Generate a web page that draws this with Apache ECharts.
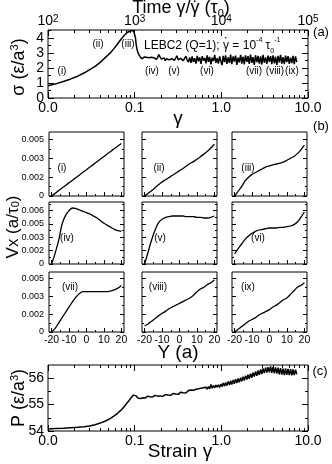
<!DOCTYPE html>
<html><head><meta charset="utf-8">
<script src="https://cdn.jsdelivr.net/npm/echarts@6/dist/echarts.min.js"></script>
<style>html,body{margin:0;padding:0;background:#fff}#c{width:332px;height:464px}</style>
</head><body><div id="c"></div>
<script>
// ---------- data ----------
const strain = [
 0.010,0.012,0.015,0.018,0.022,0.026,0.030,0.035,0.040,0.046,
 0.052,0.058,0.064,0.070,0.076,0.082,0.086,0.090,0.094,0.097,
 0.100,0.102,0.104,0.106,0.108,0.110,0.112,0.115,0.118,0.121,
 0.125,0.129,0.133,0.137,0.141,0.146,0.151,0.156,0.161,0.166,
 0.172,0.178,0.184,0.190,0.197,0.204,0.211,0.218,0.226,0.234,
 0.242,0.250,0.259,0.268,0.277,0.287,0.297,0.307,0.318,0.329,
 0.340,0.352,0.364,0.377,0.390,0.403,0.417,0.431,0.446,0.461,
 0.477,0.493,0.510,0.527,0.545,0.563,0.582,0.602,0.622,0.643,
 0.665,0.687,0.710,0.734,0.759,0.785,0.811,0.838,0.866,0.895,
 0.925,0.956,0.988,1.02,1.05,1.09,1.12,1.16,1.20,1.24,
 1.28,1.32,1.37,1.41,1.46,1.51,1.56,1.61,1.67,1.72,
 1.78,1.84,1.90,1.97,2.03,2.10,2.17,2.25,2.32,2.40,
 2.48,2.57,2.65,2.74,2.84,2.93,3.03,3.13,3.24,3.35,
 3.46,3.58,3.70,3.82,3.95,4.09,4.22,4.37,4.51,4.67,
 4.82,4.99,5.15,5.33,5.51,5.69,5.88,6.08,6.29,6.50,
 6.72,6.94,7.18,7.42
];
const stress = [
 0.82,0.93,1.10,1.26,1.46,1.67,1.88,2.12,2.38,2.72,
 3.00,3.32,3.65,3.95,4.20,4.38,4.44,4.50,4.42,4.50,
 4.38,4.05,3.60,3.30,3.12,2.98,2.90,2.78,2.70,2.62,
 2.68,2.74,2.66,2.72,2.80,2.70,2.62,2.72,2.84,2.70,
 2.62,2.58,2.72,2.90,2.74,2.60,2.56,2.68,2.50,2.64,
 2.76,2.55,2.46,2.64,2.72,2.52,2.66,2.82,2.56,2.45,
 2.65,2.74,2.50,2.60,2.80,2.54,2.40,2.72,2.35,2.78,
 2.40,2.66,2.30,2.82,2.45,2.72,2.28,2.80,2.50,2.68,
 2.32,2.85,2.42,2.75,2.25,2.70,2.48,2.88,2.35,2.66,
 2.30,2.78,2.45,2.20,2.82,2.40,2.86,2.28,2.72,2.35,
 2.90,2.26,2.78,2.44,2.84,2.22,2.70,2.38,2.88,2.30,
 2.76,2.25,2.85,2.42,2.80,2.28,2.90,2.35,2.74,2.22,
 2.86,2.40,2.82,2.30,2.78,2.24,2.88,2.36,2.72,2.28,
 2.84,2.42,2.80,2.26,2.86,2.32,2.76,2.22,2.82,2.38,
 2.88,2.30,2.74,2.26,2.84,2.40,2.80,2.28,2.70,2.34,
 2.82,2.26,2.78,2.40
];
const pressure = [
 54.08,54.09,54.10,54.12,54.14,54.16,54.19,54.24,54.30,54.38,
 54.47,54.57,54.68,54.80,54.93,55.07,55.15,55.24,55.31,55.36,
 55.38,55.36,55.33,55.30,55.27,55.24,55.22,55.21,55.23,55.22,
 55.26,55.28,55.25,55.30,55.32,55.28,55.30,55.34,55.29,55.31,
 55.35,55.30,55.32,55.29,55.33,55.36,55.31,55.34,55.38,55.33,
 55.36,55.40,55.35,55.38,55.42,55.37,55.40,55.44,55.39,55.43,
 55.47,55.41,55.45,55.50,55.44,55.48,55.53,55.46,55.55,55.49,
 55.54,55.48,55.58,55.51,55.60,55.53,55.62,55.55,55.64,55.57,
 55.66,55.58,55.68,55.60,55.76,55.62,55.72,55.64,55.74,55.66,
 55.75,55.65,55.78,55.68,55.82,55.70,55.84,55.72,55.88,55.74,
 55.90,55.76,55.93,55.79,55.96,55.82,55.99,55.85,56.02,55.88,
 56.06,55.91,56.09,55.95,56.13,55.98,56.17,56.02,56.21,56.06,
 56.25,56.09,56.29,56.13,56.33,56.16,56.37,56.19,56.40,56.21,
 56.42,56.22,56.45,56.20,56.43,56.18,56.41,56.17,56.40,56.15,
 56.38,56.14,56.36,56.12,56.37,56.13,56.35,56.12,56.34,56.11,
 56.33,56.12,56.32,56.15
];
const gammaTicks = [0.01, 0.1, 1, 10];
const gammaTickLabels = ['0.0', '0.1', '1.0', '10.0'];
const gammaMinor = [0.02,0.03,0.04,0.05,0.06,0.07,0.08,0.09,0.2,0.3,0.4,0.5,0.6,0.7,0.8,0.9,2,3,4,5,6,7,8,9];
const timeTicks = [100, 1000, 10000, 100000];
const timeTickExp = ['2', '3', '4', '5'];
const timeMinor = [200,300,400,500,600,700,800,900,2000,3000,4000,5000,6000,7000,8000,9000,20000,30000,40000,50000,60000,70000,80000,90000];
const stressTicks = [0, 1, 2, 3, 4];
const stressMinor = [0.5, 1.5, 2.5, 3.5, 4.5];
const pressureTicks = [54, 55, 56];
const pressureMinor = [54.5, 55.5];
const regionLabelsA = ['(i)','(ii)','(iii)','(iv)','(v)','(vi)','(vii)','(viii)','(ix)'];

const profileY = [-20,-18,-16,-14,-12,-10,-8,-6,-4,-2,0,2,4,6,8,10,12,14,16,18,20];
const vx_i    = [0,0.00028,0.00057,0.00084,0.00112,0.00140,0.00168,0.00196,0.00224,0.00252,0.00280,0.00308,0.00336,0.00364,0.00392,0.00420,0.00448,0.00476,0.00504,0.00532,0.00558];
const vx_ii   = [0,0.00028,0.00056,0.00088,0.0012,0.0015,0.00172,0.00196,0.0022,0.00245,0.0027,0.00293,0.00318,0.00345,0.00365,0.0039,0.00418,0.00445,0.00475,0.0051,0.0055];
const vx_iii  = [0,0.0005,0.0010,0.0016,0.0020,0.0023,0.0025,0.0027,0.0029,0.0031,0.0032,0.0033,0.0034,0.0035,0.0036,0.0038,0.0040,0.0042,0.0045,0.0049,0.0054];
const vx_iv   = [0,0.0016,0.0035,0.0060,0.0073,0.0080,0.0084,0.0083,0.0081,0.0079,0.0077,0.0075,0.0072,0.0069,0.0065,0.0061,0.0058,0.0055,0.0052,0.0050,0.0049];
const vx_v    = [0,0.0018,0.0036,0.0051,0.0062,0.0067,0.0070,0.0071,0.0072,0.0072,0.0072,0.0072,0.0071,0.0071,0.0071,0.0070,0.0070,0.0069,0.0069,0.0070,0.0072];
const vx_vi   = [0.0015,0.0023,0.0030,0.0037,0.0042,0.0046,0.0049,0.0051,0.0052,0.0053,0.0054,0.0054,0.0054,0.0055,0.0055,0.0056,0.0057,0.0059,0.0063,0.0070,0.0078];
const vx_vii  = [0,0.0004,0.0010,0.0016,0.0022,0.0028,0.0034,0.0039,0.0043,0.0045,0.0045,0.0045,0.0045,0.0045,0.0045,0.0045,0.0045,0.0046,0.0047,0.0049,0.0052];
const vx_viii = [0.0007,0.0009,0.0012,0.0015,0.0018,0.0021,0.0023,0.0026,0.0028,0.0030,0.0032,0.0034,0.0036,0.0038,0.0041,0.0045,0.0048,0.0050,0.0053,0.0055,0.0058];
const vx_ix   = [0,0.0003,0.0006,0.0009,0.0012,0.0014,0.0016,0.0019,0.0021,0.0023,0.0025,0.0028,0.0030,0.0033,0.0036,0.0038,0.0042,0.0046,0.0050,0.0052,0.0055];
const profiles = [vx_i, vx_ii, vx_iii, vx_iv, vx_v, vx_vi, vx_vii, vx_viii, vx_ix];
const profileNames = ['(i)','(ii)','(iii)','(iv)','(v)','(vi)','(vii)','(viii)','(ix)'];
const yPosTicks = [-20, -10, 0, 10, 20];
const yPosTickLabels = ['-20', '-10', '0', '10', '20'];
const yPosMinor = [-15, -5, 5, 15];
const vxTicksShort = [0, 0.002, 0.004, 0.006];
const vxTickLabelsShort = ['0', '0.002', '0.003', '0.005'];
const vxMinorShort = [0.001, 0.003, 0.005];
const vxTicksTall = [0, 0.002, 0.004, 0.006, 0.008];
const vxTickLabelsTall = ['0', '0.002', '0.003', '0.005', '0.006'];
const vxMinorTall = [0.001, 0.003, 0.005, 0.007, 0.009];

// ---------- layout / helpers ----------
const FONT = '"Liberation Sans", Arial, Helvetica, sans-serif';
const grids = [], xAxes = [], yAxes = [], seriesList = [], graphics = [];
const mctx = document.createElement('canvas').getContext('2d');
function textW(s, size) { mctx.font = size + 'px ' + FONT; return mctx.measureText(s).width; }
function addGrid(left, top, width, height) {
  grids.push({left, top, width, height, show: true, borderColor: '#000', borderWidth: 1, backgroundColor: 'rgba(0,0,0,0)'});
  return grids.length - 1;
}
function tickAxis(list, gridIndex, position, min, max, ticks, len, label) {
  list.push({
    type: 'value', gridIndex, position, min, max, silent: true,
    axisLine: {show: false, onZero: false},
    splitLine: {show: false},
    axisTick: {show: true, inside: true, length: len, customValues: ticks, lineStyle: {color: '#000', width: 1}},
    axisLabel: label ? Object.assign({show: true, customValues: ticks, color: '#000', fontFamily: FONT}, label) : {show: false}
  });
  return list.length - 1;
}
const lg = v => Math.log10(v);
function txt(x, y, text, size, opts) {
  graphics.push(Object.assign({
    type: 'text', x, y, silent: true, z: 100,
    style: Object.assign({text, fill: '#000', font: size + 'px ' + FONT, fontSize: size, fontFamily: FONT,
      textAlign: 'center', textVerticalAlign: 'middle', align: 'center', verticalAlign: 'middle'}, (opts && opts.style) || {})
  }, (opts && opts.el) || {}));
}

// ---------- panel (a) ----------
const gA = addGrid(48, 30, 260, 68);
xAxes.push({type: 'log', logBase: 10, gridIndex: gA, min: 0.01, max: 10, show: false, axisLine: {onZero: false}});
const xDataA = xAxes.length - 1;
tickAxis(xAxes, gA, 'bottom', -2, 1, gammaTicks.map(lg), 6,
  {fontSize: 14, margin: 3, formatter: v => gammaTickLabels[gammaTicks.map(lg).findIndex(t => Math.abs(t - v) < 1e-6)]});
tickAxis(xAxes, gA, 'bottom', -2, 1, gammaMinor.map(lg), 3, null);
tickAxis(xAxes, gA, 'top', 2, 5, timeTicks.map(lg), 6,
  {fontSize: 14, margin: 1, lineHeight: 15,
   formatter: v => '10{sup|' + timeTickExp[timeTicks.map(lg).findIndex(t => Math.abs(t - v) < 1e-6)] + '}',
   rich: {sup: {fontSize: 10, fontFamily: FONT, color: '#000', verticalAlign: 'top', lineHeight: 8}}});
tickAxis(xAxes, gA, 'top', 2, 5, timeMinor.map(lg), 3, null);
const yA = tickAxis(yAxes, gA, 'left', 0, 4.55, stressTicks, 6, {fontSize: 14, margin: 4});
tickAxis(yAxes, gA, 'left', 0, 4.55, stressMinor, 3, null);
tickAxis(yAxes, gA, 'right', 0, 4.55, stressTicks, 6, null);
tickAxis(yAxes, gA, 'right', 0, 4.55, stressMinor, 3, null);
seriesList.push({type: 'line', xAxisIndex: xDataA, yAxisIndex: yA, data: strain.map((g, i) => [g, stress[i]]),
  showSymbol: false, silent: true, lineStyle: {color: '#000', width: 1.5}, animation: false});

// ---------- panel (b) ----------
const colLeft = [49, 142, 232];
const rowTop = [132, 202, 272];
const rowH = [64, 62, 60];
const rowMax = [0.0068, 0.0093, 0.0067];
const labelPos = [[62,168],[159,168],[248,168],[67,238],[160,238],[258,238],[70,287],[158,287],[248,287]];
for (let r = 0; r < 3; r++) {
  const ticks = r === 1 ? vxTicksTall : vxTicksShort;
  const tickLabels = r === 1 ? vxTickLabelsTall : vxTickLabelsShort;
  const minor = r === 1 ? vxMinorTall : vxMinorShort;
  for (let c = 0; c < 3; c++) {
    const k = r * 3 + c;
    const g = addGrid(colLeft[c], rowTop[r], 75, rowH[r]);
    const xi = tickAxis(xAxes, g, 'bottom', -21.5, 21.5, yPosTicks, 4,
      r === 2 ? {fontSize: 10.5, margin: 3, formatter: v => yPosTickLabels[yPosTicks.indexOf(Math.round(v))]} : null);
    tickAxis(xAxes, g, 'bottom', -21.5, 21.5, yPosMinor, 2, null);
    const yi = tickAxis(yAxes, g, 'left', 0, rowMax[r], ticks, 4,
      c === 0 ? {fontSize: 9, margin: 5, formatter: v => tickLabels[Math.round(v / 0.002)]} : null);
    tickAxis(yAxes, g, 'left', 0, rowMax[r], minor, 2, null);
    tickAxis(yAxes, g, 'right', 0, rowMax[r], ticks, 4, null);
    tickAxis(yAxes, g, 'right', 0, rowMax[r], minor, 2, null);
    seriesList.push({type: 'line', xAxisIndex: xi, yAxisIndex: yi, data: profileY.map((y, i) => [y, profiles[k][i]]),
      showSymbol: false, silent: true, smooth: 0.3, lineStyle: {color: '#000', width: 1.3}, animation: false});
    txt(labelPos[k][0], labelPos[k][1], profileNames[k], 10);
  }
}

// ---------- panel (c) ----------
const gC = addGrid(48, 365, 260, 66);
xAxes.push({type: 'log', logBase: 10, gridIndex: gC, min: 0.01, max: 10, show: false, axisLine: {onZero: false}});
const xDataC = xAxes.length - 1;
tickAxis(xAxes, gC, 'bottom', -2, 1, gammaTicks.map(lg), 6,
  {fontSize: 14, margin: 3, formatter: v => gammaTickLabels[gammaTicks.map(lg).findIndex(t => Math.abs(t - v) < 1e-6)]});
tickAxis(xAxes, gC, 'bottom', -2, 1, gammaMinor.map(lg), 3, null);
tickAxis(xAxes, gC, 'top', -2, 1, gammaTicks.map(lg), 6, null);
tickAxis(xAxes, gC, 'top', -2, 1, gammaMinor.map(lg), 3, null);
const yC = tickAxis(yAxes, gC, 'left', 54, 56.5, pressureTicks, 6, {fontSize: 14, margin: 4});
tickAxis(yAxes, gC, 'left', 54, 56.5, pressureMinor, 3, null);
tickAxis(yAxes, gC, 'right', 54, 56.5, pressureTicks, 6, null);
tickAxis(yAxes, gC, 'right', 54, 56.5, pressureMinor, 3, null);
seriesList.push({type: 'line', xAxisIndex: xDataC, yAxisIndex: yC, data: strain.map((g, i) => [g, pressure[i]]),
  showSymbol: false, silent: true, lineStyle: {color: '#000', width: 1.5}, animation: false});

// ---------- texts ----------
const richFor = base => ({
  sup: {fontSize: Math.round(base * 0.62), fontFamily: FONT, fill: '#000', color: '#000', verticalAlign: 'top', lineHeight: 9},
  sub: {fontSize: Math.round(base * 0.62), fontFamily: FONT, fill: '#000', color: '#000', verticalAlign: 'bottom', lineHeight: 9}
});
// title with gamma-dot (dot drawn as a spacing "dot above" glyph over the second gamma)
const TS = 18, TX = 181, TY = 8;
const titleW = textW('Time γ/γ (τ', TS) + textW('0', Math.round(TS * 0.62)) + textW(')', TS);
const titleX0 = TX - titleW / 2;
txt(titleX0, TY, 'Time γ/γ (τ{sub|0})', TS, {style: {rich: richFor(TS), lineHeight: 22, textAlign: 'left', align: 'left'}});
txt(titleX0 + textW('Time γ/', TS) + textW('γ', TS) / 2 + 0.5, TY + 1.5, '˙', TS);

txt(178, 119, 'γ', 19);
txt(178, 353, 'Y (a)', 19);
txt(180, 452, 'Strain γ', 19);
txt(19, 67, 'σ (ε/a{sup|3})', 18, {style: {rich: richFor(18), lineHeight: 20}, el: {rotation: Math.PI / 2}});
txt(13, 227, 'Vx (a/τ{sub|0})', 17, {style: {rich: richFor(17), lineHeight: 17}, el: {rotation: Math.PI / 2}});
txt(19, 398, 'P (ε/a{sup|3})', 18, {style: {rich: richFor(18), lineHeight: 20}, el: {rotation: Math.PI / 2}});
txt(321, 32, '(a)', 13);
txt(321, 126, '(b)', 13);
txt(320, 371, '(c)', 13);
// annotation with gamma-dot
const AS = 12, AX = 144, AY = 46;
txt(AX, AY, 'LEBC2 (Q=1); γ = 10{sup|-4} τ{sub|0}{sup|-1}', AS,
  {style: {rich: richFor(AS), lineHeight: 18, textAlign: 'left', align: 'left'}});
txt(AX + textW('LEBC2 (Q=1); ', AS) + textW('γ', AS) / 2 + 0.4, AY - 1.5, '˙', AS + 2);
const regionPosA = [[62,71],[98,44],[128,44],[152,71],[174,71],[207,71],[254,71],[275,71],[292,71]];
regionLabelsA.forEach((t, i) => txt(regionPosA[i][0], regionPosA[i][1], t, 10));

const chart = echarts.init(document.getElementById('c'), null, {renderer: 'canvas'});
chart.setOption({
  animation: false,
  backgroundColor: '#fff',
  textStyle: {fontFamily: FONT, color: '#000'},
  grid: grids, xAxis: xAxes, yAxis: yAxes, series: seriesList, graphic: graphics
});
</script></body></html>
